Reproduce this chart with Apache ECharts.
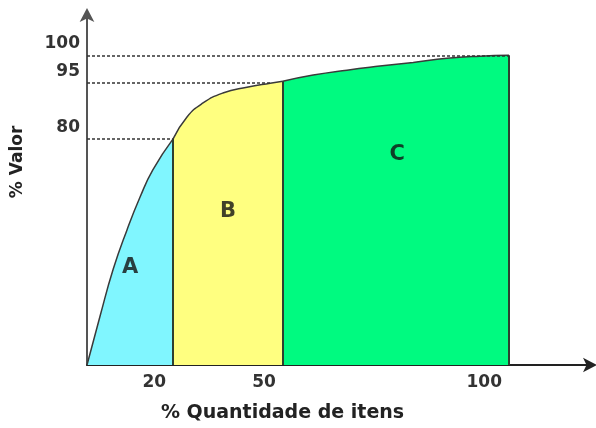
<!DOCTYPE html>
<html>
<head>
<meta charset="utf-8">
<script src="https://cdn.jsdelivr.net/npm/echarts@6/dist/echarts.min.js"></script>
<style>html,body{margin:0;padding:0;background:#fff;}#c{width:596px;height:428px;}</style>
</head>
<body>
<div id="c"></div>
<script>
// Curve (x: % of items, y: % of value, as drawn)
const curveA_X = [0, 3.1, 6.2, 9.5, 12.6, 15.6, 20.4];
const curveA_Y = [0, 15.8, 30.9, 43.7, 54.3, 63.0, 73.0];
const curveB_X = [20.4, 23.7, 27.5, 32.2, 37.9, 43.4, 46.4];
const curveB_Y = [73.0, 80.1, 84.6, 87.8, 89.7, 91.0, 91.6];
const curveC_X = [46.4, 53.6, 61.6, 69.4, 77.3, 85.3, 93.1, 100];
const curveC_Y = [91.6, 93.6, 95.2, 96.5, 97.7, 99.0, 99.7, 100];
const classNames = ['A', 'B', 'C'];
const classLetterX = [10.2, 33.4, 73.5];
const classLetterY = [31.5, 49.5, 67.8];
const classColors = ['#80F6FF', '#FFFF80', '#00FA80'];
const xTickValues = [20.4, 46.4, 100];
const xTickLabels = ['20', '50', '100'];
const yTickValues = [73.0, 91.0, 100];
const yTickLabels = ['80', '95', '100'];
const refEndX = [20.4, 43.4, 100];   // where each dashed line meets the curve

const font = 'DejaVu Sans';
const chart = echarts.init(document.getElementById('c'), null, {renderer: 'canvas'});

const zip = (xs, ys) => xs.map((x, i) => [x, ys[i]]);
const curves = [zip(curveA_X, curveA_Y), zip(curveB_X, curveB_Y), zip(curveC_X, curveC_Y)];

const series = curves.map((d, i) => ({
  type: 'line',
  data: d,
  smooth: 0.5,
  symbol: 'none',
  lineStyle: {color: '#3a3a3a', width: 1.5},
  areaStyle: {color: classColors[i], opacity: 1},
  z: 2,
  markLine: {
    silent: true,
    symbol: 'none',
    label: {show: false},
    lineStyle: {color: '#2f3f2f', width: 2, type: 'solid'},
    data: [[{coord: [d[d.length - 1][0], 0]}, {coord: d[d.length - 1]}]]
  }
}));

series.push({
  type: 'line',
  data: [],
  markLine: {
    silent: true,
    symbol: 'none',
    label: {show: false},
    lineStyle: {color: '#333', width: 1.5, type: [3, 2]},
    data: yTickValues.map((v, i) => [{coord: [0, v]}, {coord: [refEndX[i], v]}])
  }
});

series.push({
  type: 'scatter',
  symbolSize: 0,
  data: classNames.map((n, i) => ({value: [classLetterX[i], classLetterY[i]], name: n})),
  label: {
    show: true, position: 'inside', formatter: p => p.name,
    fontFamily: font, fontWeight: 'bold', fontSize: 21, color: '#111'
  },
  z: 5
});

chart.setOption({
  animation: false,
  backgroundColor: '#fff',
  grid: {left: 87, right: 6, top: 15, bottom: 62},
  xAxis: {
    type: 'value', min: 0, max: 119.2,
    name: '% Quantidade de itens', nameLocation: 'middle', nameGap: 39,
    nameTextStyle: {fontFamily: font, fontWeight: 'bold', fontSize: 19, color: '#222', padding: [0, 112, 0, 0]},
    axisLine: {show: true, onZero: false, symbol: ['none', 'arrow'], symbolSize: [11, 14], symbolOffset: [0, 7],
      lineStyle: {color: '#222', width: 2}},
    axisTick: {show: false},
    splitLine: {show: false},
    axisLabel: {
      customValues: xTickValues,
      formatter: v => xTickLabels[xTickValues.indexOf(v)],
      align: 'right', padding: [0, 7, 0, 0], margin: 9,
      fontFamily: font, fontWeight: 'bold', fontSize: 17, color: '#333'
    }
  },
  yAxis: {
    type: 'value', min: 0, max: 113,
    name: '% Valor', nameLocation: 'middle', nameGap: 61,
    nameTextStyle: {fontFamily: font, fontWeight: 'bold', fontSize: 17, color: '#222', padding: [0, 0, 0, 56]},
    axisLine: {show: true, onZero: false, symbol: ['none', 'arrow'], symbolSize: [11, 14], symbolOffset: [0, 7],
      lineStyle: {color: '#555', width: 2}},
    axisTick: {show: false},
    splitLine: {show: false},
    axisLabel: {
      customValues: yTickValues,
      formatter: v => yTickLabels[yTickValues.indexOf(v)],
      verticalAlign: 'bottom', padding: [0, 0, 3, 0], margin: 7,
      fontFamily: font, fontWeight: 'bold', fontSize: 17, color: '#333'
    }
  },
  series: series
});
</script>
</body>
</html>
